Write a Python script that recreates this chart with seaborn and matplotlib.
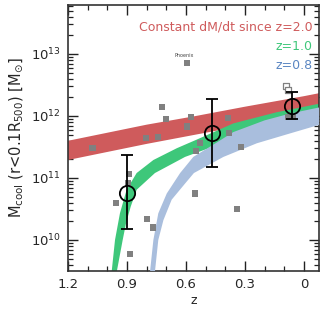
import matplotlib
matplotlib.use("Agg")
import matplotlib.pyplot as plt
import seaborn as sns
import numpy as np
import pandas as pd
from matplotlib.ticker import MultipleLocator, LogLocator

# --------------------------------------------------
# Data, masses as log10(M / Msun)
# --------------------------------------------------
# individual clusters (filled grey squares)
cluster_z = [1.075, 0.805, 0.741, 0.724, 0.703, 0.596, 0.575, 0.595, 0.551, 0.529,
             0.388, 0.381, 0.320, 0.556, 0.342, 0.888, 0.895, 0.956, 0.798, 0.766,
             0.883, 0.083, 0.055]
cluster_logm = [11.48, 11.65, 11.66, 12.15, 11.95, 12.86, 11.98, 11.83, 11.43, 11.57,
                11.97, 11.72, 11.50, 10.75, 10.50, 11.07, 10.92, 10.60, 10.34, 10.20,
                9.78, 11.99, 11.99]

# open grey squares
open_z = [0.094, 0.080]
open_logm = [12.48, 12.42]

# binned means with error bars
bin_z = [0.898, 0.469, 0.059]
bin_logm = [10.76, 11.72, 12.16]
bin_lo = [10.17, 11.17, 11.95]
bin_hi = [11.37, 12.27, 12.39]

# constant dM/dt since z=2.0 (red band)
red_z = [1.2, 1.0, 0.8, 0.55, 0.3, 0.0, -0.08]
red_up = [11.60, 11.73, 11.86, 12.00, 12.15, 12.32, 12.37]
red_lo = [11.29, 11.42, 11.55, 11.70, 11.85, 12.02, 12.07]

# since z=1.0 (green band)
green_up_z = [0.99, 0.978, 0.961, 0.936, 0.902, 0.851, 0.766, 0.647, 0.545, 0.36, 0.14, -0.08]
green_up = [9.0, 9.49, 10.0, 10.43, 10.81, 11.08, 11.29, 11.48, 11.62, 11.88, 12.06, 12.20]
green_lo_z = [0.962, 0.952, 0.922, 0.905, 0.881, 0.851, 0.758, 0.605, 0.45, 0.2, -0.08]
green_lo = [9.0, 9.49, 10.0, 10.27, 10.54, 10.81, 11.08, 11.34, 11.52, 11.75, 11.93]

# since z=0.8 (blue band)
blue_up_z = [0.79, 0.783, 0.766, 0.741, 0.698, 0.630, 0.563, 0.45, 0.36, 0.2, 0.07, -0.08]
blue_up = [9.0, 9.49, 10.0, 10.43, 10.75, 11.08, 11.34, 11.56, 11.74, 11.93, 12.04, 12.14]
blue_lo_z = [0.765, 0.758, 0.741, 0.715, 0.673, 0.605, 0.56, 0.41, 0.24, 0.07, -0.08]
blue_lo = [9.0, 9.49, 10.0, 10.32, 10.65, 10.91, 11.08, 11.34, 11.56, 11.72, 11.86]

RED = "#cf5b5c"
GREEN = "#3ec77a"
BLUE = "#a9bedd"
BLUE_TXT = "#5a86c2"
GREY = "#808080"

df = pd.DataFrame({"z": cluster_z, "mcool": 10 ** np.array(cluster_logm)})

# --------------------------------------------------
# Plot
# --------------------------------------------------
sns.set_style("ticks")
plt.rcParams["font.family"] = ["DejaVu Sans"]
plt.rcParams["mathtext.default"] = "regular"

fig = plt.figure(figsize=(3.28, 3.09), dpi=100)
ax = fig.add_axes([0.2073, 0.1230, 0.7653, 0.8608])
ax.set_yscale("log")


def band(zu, mu, zl, ml, color, zo):
    xs = list(zu) + list(zl)[::-1]
    ys = list(10 ** np.array(mu)) + list(10 ** np.array(ml))[::-1]
    ax.fill(xs, ys, color=color, lw=0, zorder=zo)


band(red_z, red_up, red_z, red_lo, RED, 1)
band(green_up_z, green_up, green_lo_z, green_lo, GREEN, 2)
band(blue_up_z, blue_up, blue_lo_z, blue_lo, BLUE, 3)

sns.scatterplot(data=df, x="z", y="mcool", marker="s", s=20, color=GREY,
                edgecolor="none", ax=ax, zorder=4, legend=False)
ax.scatter(open_z, 10 ** np.array(open_logm), marker="s", s=20,
           facecolor="white", edgecolor=GREY, linewidth=0.9, zorder=4)

ym = 10 ** np.array(bin_logm)
yerr = [ym - 10 ** np.array(bin_lo), 10 ** np.array(bin_hi) - ym]
ax.errorbar(bin_z, ym, yerr=yerr, fmt="o", ms=11, mfc="none", mec="black",
            mew=1.3, ecolor="black", elinewidth=1.3, capsize=4.5, capthick=1.3,
            zorder=5)

ax.text(0.607, 10 ** 12.98, "Phoenix", fontsize=3.5, color="#444444",
        ha="center", va="center")

ax.text(0.976, 0.918, "Constant dM/dt since z=2.0", transform=ax.transAxes,
        ha="right", va="center", fontsize=9, color=RED)
ax.text(0.976, 0.843, "z=1.0", transform=ax.transAxes,
        ha="right", va="center", fontsize=9, color=GREEN)
ax.text(0.976, 0.774, "z=0.8", transform=ax.transAxes,
        ha="right", va="center", fontsize=9, color=BLUE_TXT)

ax.set_xlim(1.2, -0.076)
ax.set_ylim(10 ** 9.50, 10 ** 13.79)
ax.xaxis.set_major_locator(MultipleLocator(0.3))
ax.xaxis.set_minor_locator(MultipleLocator(0.1))
ax.set_xticks([1.2, 0.9, 0.6, 0.3, 0.0])
ax.set_xticklabels(["1.2", "0.9", "0.6", "0.3", "0"])
ax.yaxis.set_major_locator(LogLocator(base=10, numticks=10))
ax.yaxis.set_minor_locator(LogLocator(base=10, subs=np.arange(2, 10), numticks=20))

ax.tick_params(which="both", direction="in", top=True, right=True,
               color="#222222", labelsize=9.5, pad=5)
ax.tick_params(which="major", length=7, width=1.0)
ax.tick_params(which="minor", length=3.5, width=0.9)
for sp in ax.spines.values():
    sp.set_linewidth(1.2)
    sp.set_color("#333333")

ax.set_xlabel("z", fontsize=9, labelpad=2)
ax.set_ylabel(r"M$_{\mathrm{cool}}$ (r<0.1R$_{500}$) [M$_{\odot}$]", fontsize=10.5,
              labelpad=4)

fig.savefig("out.png", dpi=100)
plt.close(fig)
